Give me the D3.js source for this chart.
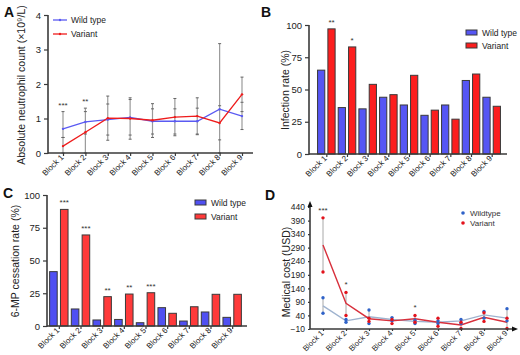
<!DOCTYPE html>
<html>
<head>
<meta charset="utf-8">
<script src="https://cdn.jsdelivr.net/npm/d3@7"></script>
<style>
  body { margin: 0; background: #fff; }
  svg { display: block; font-family: "Liberation Sans", Arial, sans-serif; }
</style>
</head>
<body>
<div id="chart"></div>
<script>
// ---- data ----
const blocks = ["Block 1", "Block 2", "Block 3", "Block 4", "Block 5", "Block 6", "Block 7", "Block 8", "Block 9"];

// A: absolute neutrophil count
const ancWild = [0.7, 0.9, 0.97, 1.03, 0.92, 0.92, 0.92, 1.27, 1.07];
const ancVariant = [0.2, 0.6, 1.01, 1.0, 0.95, 1.04, 1.07, 0.87, 1.7];
const ancWildLo = [0.45, 0.55, 0.52, 0.52, 0.55, 0.55, 0.55, 0.38, 0.68];
const ancWildHi = [1.2, 1.3, 1.42, 1.55, 1.28, 1.28, 1.3, 1.37, 1.47];
const ancVarLo = [0.0, 0.0, 0.37, 0.4, 0.45, 0.5, 0.53, 0.0, 1.2];
const ancVarHi = [0.45, 1.2, 1.65, 1.6, 1.43, 1.58, 1.6, 3.17, 2.2];
const ancTicks = [0, 1, 2, 3, 4];
const ancStars = ["***", "**", "", "", "", "", "", "", ""];

// B: infection rate
const infWild = [65, 36, 35, 44, 38, 30, 38, 57, 44];
const infVariant = [97, 83, 54, 46, 61, 34, 27, 62, 37];
const pctTicks = [0, 25, 50, 75, 100];
const infStars = ["**", "*", "", "", "", "", "", "", ""];

// C: 6-MP cessation rate
const cesWild = [41.5, 13, 4.6, 5, 2.5, 14, 3.8, 10.7, 6.6];
const cesVariant = [89, 69.5, 22.4, 24.4, 25.4, 9.7, 14.7, 24.2, 24.2];
const cesStars = ["***", "***", "**", "**", "***", "", "", "", ""];

// D: medical cost
const costWild = [75, 20, 35, 25, 18, 15, 20, 42, 30];
const costVariant = [300, 85, 28, 20, 28, 15, 5, 33, 15];
const costWildLo = [48, 15, 10, 20, 10, 10, 10, 30, 20];
const costWildHi = [105, 25, 60, 32, 22, 20, 25, 55, 65];
const costVarLo = [200, 40, 18, 10, 15, 0, -8, 18, -8];
const costVarHi = [400, 125, 30, 25, 40, 30, 15, 50, 30];
const costTicks = [-10, 40, 90, 140, 190, 240, 290, 340, 390, 440];
const costStars = ["***", "*", "", "", "*", "", "", "", ""];

const series = ["Wild type", "Variant"];

// ---- setup ----
const svg = d3.select("#chart").append("svg").attr("width", 520).attr("height", 355);
const axisColor = "#3a3a3a";

function styleAxis(g, size) {
  g.select(".domain").remove();
  g.selectAll(".tick line").attr("stroke", axisColor).attr("stroke-width", 1.2);
  g.selectAll(".tick text").attr("fill", "#222").style("font-size", (size || 8.5) + "px");
}

function xAxisRotated(g) {
  g.selectAll(".tick text")
    .attr("text-anchor", "end")
    .attr("x", -3).attr("y", 1).attr("dy", "0.35em")
    .attr("transform", "rotate(-45)");
}

function panelLabel(x, y, t) {
  svg.append("text").attr("x", x).attr("y", y).attr("font-weight", "bold")
    .style("font-size", "14px").attr("fill", "#111").text(t);
}

function yTitle(x, y, t) {
  svg.append("text").attr("transform", `translate(${x},${y}) rotate(-90)`)
    .attr("text-anchor", "middle").style("font-size", "10.5px").attr("fill", "#222").text(t);
}

function hline(x1, x2, y) {
  svg.append("line").attr("x1", x1).attr("x2", x2).attr("y1", y).attr("y2", y)
    .attr("stroke", axisColor).attr("stroke-width", 1.6);
}
function vline(x, y1, y2) {
  svg.append("line").attr("x1", x).attr("x2", x).attr("y1", y1).attr("y2", y2)
    .attr("stroke", axisColor).attr("stroke-width", 1.6);
}

// ================= Panel A =================
{
  const x = d3.scalePoint().domain(blocks).range([63, 242]);
  const y = d3.scaleLinear().domain([0, 4]).range([153, 15]);
  const wCol = "#5a5af2", vCol = "#ee1c1c";

  // error bars
  const err = blocks.map((b, i) => ({ b, lo: Math.min(ancWildLo[i], ancVarLo[i]), hi: Math.max(ancWildHi[i], ancVarHi[i]),
    caps: [ancWildLo[i], ancWildHi[i], ancVarLo[i], ancVarHi[i]] }));
  const g = svg.append("g");
  g.selectAll("line.err").data(err).enter().append("line")
    .attr("x1", d => x(d.b)).attr("x2", d => x(d.b))
    .attr("y1", d => y(d.lo)).attr("y2", d => y(d.hi))
    .attr("stroke", "#9a9a9a").attr("stroke-width", 1.2);
  err.forEach(d => {
    g.selectAll(null).data(d.caps).enter().append("line")
      .attr("x1", x(d.b) - 1.5).attr("x2", x(d.b) + 1.5)
      .attr("y1", c => y(c)).attr("y2", c => y(c))
      .attr("stroke", "#666").attr("stroke-width", 1);
  });

  const line = d3.line().x((d, i) => x(blocks[i])).y(d => y(d));
  g.append("path").datum(ancWild).attr("d", line).attr("fill", "none").attr("stroke", wCol).attr("stroke-width", 1.3);
  g.append("path").datum(ancVariant).attr("d", line).attr("fill", "none").attr("stroke", vCol).attr("stroke-width", 1.3);
  g.selectAll("circle.w").data(ancWild).enter().append("circle")
    .attr("cx", (d, i) => x(blocks[i])).attr("cy", d => y(d)).attr("r", 1.2).attr("fill", wCol);
  g.selectAll("circle.v").data(ancVariant).enter().append("circle")
    .attr("cx", (d, i) => x(blocks[i])).attr("cy", d => y(d)).attr("r", 1.2).attr("fill", vCol);

  g.selectAll("text.star").data(ancStars).enter().append("text")
    .attr("x", (d, i) => x(blocks[i])).attr("y", (d, i) => y(Math.max(ancWildHi[i], ancVarHi[i])) - 4)
    .attr("text-anchor", "middle").style("font-size", "8px").attr("fill", "#333").text(d => d);

  svg.append("g").attr("transform", "translate(48,0)")
    .call(d3.axisLeft(y).tickValues(ancTicks).tickFormat(d3.format("d")).tickSize(4))
    .call(g => styleAxis(g, 9.5));
  svg.append("g").attr("transform", "translate(0,153)")
    .call(d3.axisBottom(x).tickSize(3))
    .call(g => styleAxis(g, 8)).call(xAxisRotated);
  vline(48, 15, 153.8);
  hline(48, 253, 153);

  // legend
  const lg = [[wCol, 20], [vCol, 34]];
  lg.forEach((l, i) => {
    svg.append("line").attr("x1", 53).attr("x2", 67).attr("y1", l[1]).attr("y2", l[1])
      .attr("stroke", l[0]).attr("stroke-width", 1.3);
    svg.append("circle").attr("cx", 60).attr("cy", l[1]).attr("r", 1.2).attr("fill", l[0]);
    svg.append("text").attr("x", 71).attr("y", l[1] + 3).style("font-size", "8.5px").attr("fill", "#222").text(series[i]);
  });

  yTitle(25, 85, "Absolute neutrophil count (×10⁹/L)");
  panelLabel(4, 17, "A");
}

// bar panel helper
function barPanel(opt) {
  const x0 = d3.scaleBand().domain(blocks).range(opt.xr);
  const x1 = d3.scaleBand().domain(series).range([0, x0.bandwidth()]).paddingInner(0.3).paddingOuter(0.15);
  const y = d3.scaleLinear().domain([0, 100]).range(opt.yr);
  const cols = { "Wild type": opt.wCol, "Variant": opt.vCol };
  const data = blocks.map((b, i) => ({ b, vals: [{ s: "Wild type", v: opt.wild[i] }, { s: "Variant", v: opt.variant[i] }] }));

  const grp = svg.append("g").selectAll("g").data(data).enter().append("g")
    .attr("transform", d => `translate(${x0(d.b)},0)`);
  grp.selectAll("rect").data(d => d.vals).enter().append("rect")
    .attr("x", d => x1(d.s)).attr("width", x1.bandwidth())
    .attr("y", d => y(d.v)).attr("height", d => y(0) - y(d.v))
    .attr("fill", d => cols[d.s]).attr("stroke", "#3a3a3a").attr("stroke-width", 1);

  svg.append("g").selectAll("text").data(opt.stars).enter().append("text")
    .attr("x", (d, i) => x0(blocks[i]) + x1("Variant") + x1.bandwidth() / 2)
    .attr("y", (d, i) => y(opt.variant[i]) - 4)
    .attr("text-anchor", "middle").style("font-size", "8px").attr("fill", "#333").text(d => d);

  svg.append("g").attr("transform", `translate(${opt.ax},0)`)
    .call(d3.axisLeft(y).tickValues(pctTicks).tickSize(4))
    .call(g => styleAxis(g, 9.5));
  const xp = d3.scalePoint().domain(blocks).range([x0(blocks[0]) + x0.bandwidth() / 2, x0(blocks[8]) + x0.bandwidth() / 2]);
  svg.append("g").attr("transform", `translate(0,${opt.yr[0]})`)
    .call(d3.axisBottom(xp).tickSize(3))
    .call(g => styleAxis(g, 8)).call(xAxisRotated);
  vline(opt.ax, opt.yr[1], opt.yr[0] + 0.8);
  hline(opt.ax, opt.xend, opt.yr[0]);

  opt.legend.forEach((ly, i) => {
    svg.append("rect").attr("x", opt.lx).attr("y", ly - 3).attr("width", 11).attr("height", 5)
      .attr("fill", [opt.wCol, opt.vCol][i]).attr("stroke", "#3a3a3a").attr("stroke-width", 1);
    svg.append("text").attr("x", opt.lx + 16).attr("y", ly + 3).style("font-size", "8.5px").attr("fill", "#222").text(series[i]);
  });
}

// ================= Panel B =================
barPanel({
  xr: [316, 502], yr: [154, 25], ax: 309, xend: 507,
  wild: infWild, variant: infVariant, stars: infStars,
  wCol: "#5656f4", vCol: "#fc1e1e",
  lx: 466, legend: [33, 46]
});
yTitle(289, 90, "Infection rate (%)");
panelLabel(261, 17, "B");

// ================= Panel C =================
barPanel({
  xr: [48, 243], yr: [326, 195], ax: 47, xend: 247,
  wild: cesWild, variant: cesVariant, stars: cesStars,
  wCol: "#5050f2", vCol: "#ff3a3a",
  lx: 195, legend: [203, 217]
});
yTitle(19, 261, "6-MP cessation rate (%)");
panelLabel(3, 198, "C");

// ================= Panel D =================
{
  const x = d3.scalePoint().domain(blocks).range([323, 507]);
  const y = d3.scaleLinear().domain([-10, 440]).range([329, 207]);
  const wCol = "#2f62c8", vCol = "#e3121c", wLine = "#9fb3cf", vLine = "#d8303c";
  const g = svg.append("g");

  const bars = [];
  blocks.forEach((b, i) => {
    bars.push({ b, lo: costWildLo[i], hi: costWildHi[i], c: wCol });
    bars.push({ b, lo: costVarLo[i], hi: costVarHi[i], c: vCol });
  });
  g.selectAll("line.err").data(bars).enter().append("line")
    .attr("x1", d => x(d.b)).attr("x2", d => x(d.b))
    .attr("y1", d => y(d.lo)).attr("y2", d => y(d.hi))
    .attr("stroke", "#a8a8a8").attr("stroke-width", 1);

  const line = d3.line().x((d, i) => x(blocks[i])).y(d => y(d));
  g.append("path").datum(costWild).attr("d", line).attr("fill", "none").attr("stroke", wLine).attr("stroke-width", 1.4);
  g.append("path").datum(costVariant).attr("d", line).attr("fill", "none").attr("stroke", vLine).attr("stroke-width", 1.4);

  const pts = [];
  bars.forEach(d => { pts.push({ b: d.b, v: d.lo, c: d.c }); pts.push({ b: d.b, v: d.hi, c: d.c }); });
  g.selectAll("circle").data(pts).enter().append("circle")
    .attr("cx", d => x(d.b)).attr("cy", d => y(d.v)).attr("r", 1.7).attr("fill", d => d.c);

  g.selectAll("text.star").data(costStars).enter().append("text")
    .attr("x", (d, i) => x(blocks[i])).attr("y", (d, i) => y(Math.max(costWildHi[i], costVarHi[i])) - 5)
    .attr("text-anchor", "middle").style("font-size", "8px").attr("fill", "#333").text(d => d);

  svg.append("g").attr("transform", "translate(310,0)")
    .call(d3.axisLeft(y).tickValues(costTicks).tickSize(2))
    .call(g => styleAxis(g, 8.5));
  svg.append("g").attr("transform", "translate(0,329)")
    .call(d3.axisBottom(x).tickSize(2))
    .call(g => styleAxis(g, 7.8)).call(xAxisRotated);
  vline(310, 205, 329);
  hline(310, 514, 329);
  svg.append("path").attr("d", "M310,201 L307.5,207 L312.5,207 Z").attr("fill", "#111");
  svg.append("path").attr("d", "M518,329 L512,326.5 L512,331.5 Z").attr("fill", "#111");

  [[wCol, 213], [vCol, 223]].forEach((l, i) => {
    svg.append("circle").attr("cx", 463).attr("cy", l[1]).attr("r", 1.8).attr("fill", l[0]);
    svg.append("text").attr("x", 470).attr("y", l[1] + 3).style("font-size", "8px").attr("fill", "#333")
      .text(i === 0 ? "Wildtype" : "Variant");
  });

  yTitle(290, 272, "Medical cost (USD)");
  panelLabel(265, 200, "D");
}
</script>
</body>
</html>
